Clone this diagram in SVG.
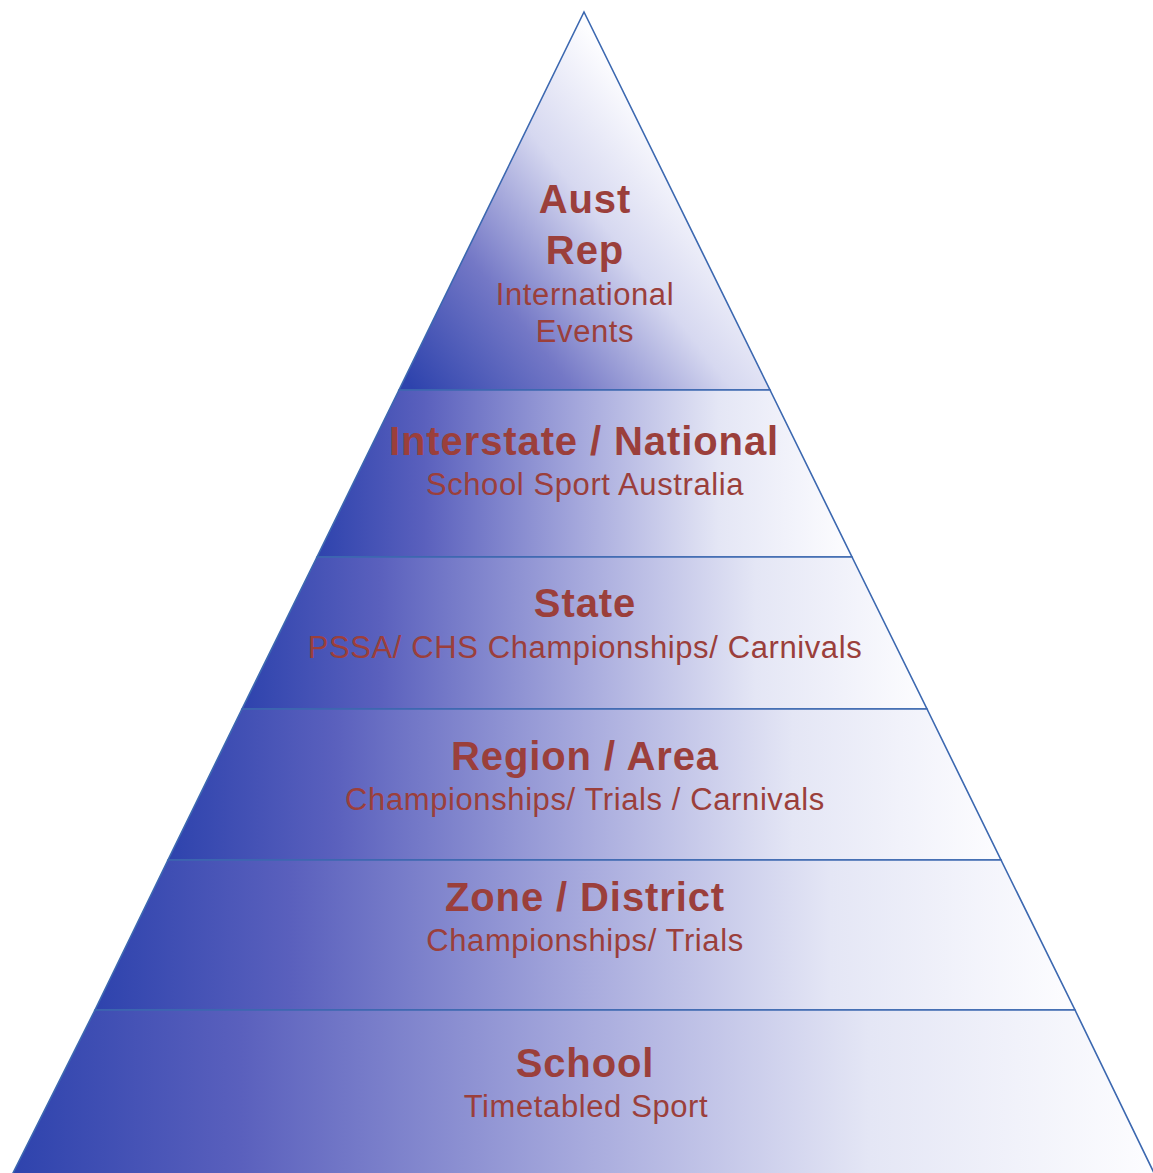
<svg xmlns="http://www.w3.org/2000/svg" width="1153" height="1173" viewBox="0 0 1153 1173">
<defs>
<linearGradient id="band" x1="0" y1="0" x2="1" y2="0">
<stop offset="0" stop-color="#2e43ad"/>
<stop offset="0.2" stop-color="#5a60bd"/>
<stop offset="0.5" stop-color="#a7aadd"/>
<stop offset="0.75" stop-color="#e4e6f5"/>
<stop offset="1" stop-color="#fdfdff"/>
</linearGradient>
<linearGradient id="top" x1="0" y1="0.95" x2="0.75" y2="0.35">
<stop offset="0" stop-color="#2e43ad"/>
<stop offset="0.35" stop-color="#7478c6"/>
<stop offset="0.7" stop-color="#d6d8f0"/>
<stop offset="1" stop-color="#fdfdff"/>
</linearGradient>
<style>
.band{stroke:#3c68b0;stroke-width:1.6;stroke-linejoin:miter}
.h{font-family:"Liberation Sans",Arial,sans-serif;font-weight:bold;font-size:40px;letter-spacing:0.9px;fill:#9b3f3b;text-anchor:middle}
.s{font-family:"Liberation Sans",Arial,sans-serif;font-size:31px;letter-spacing:0.6px;fill:#9b3f3b;text-anchor:middle}
</style>
</defs>
<rect width="1153" height="1173" fill="#ffffff"/>
<g id="aust-rep">
<polygon class="band" fill="url(#top)" points="584,12 770,390 399,390"/>
<text class="h" x="585" y="213">Aust</text>
<text class="h" x="585" y="264">Rep</text>
<text class="s" x="585" y="305">International</text>
<text class="s" x="585" y="342">Events</text>
</g>
<g id="interstate">
<polygon class="band" fill="url(#band)" points="399,390 770,390 852,557 317,557"/>
<text class="h" x="584" y="455">Interstate / National</text>
<text class="s" x="585" y="495">School Sport Australia</text>
</g>
<g id="state">
<polygon class="band" fill="url(#band)" points="317,557 852,557 927,709 242,709"/>
<text class="h" x="585" y="617">State</text>
<text class="s" x="585" y="658">PSSA/ CHS Championships/ Carnivals</text>
</g>
<g id="region">
<polygon class="band" fill="url(#band)" points="242,709 927,709 1001,860 168,860"/>
<text class="h" x="585" y="770">Region / Area</text>
<text class="s" x="585" y="810">Championships/ Trials / Carnivals</text>
</g>
<g id="zone">
<polygon class="band" fill="url(#band)" points="168,860 1001,860 1075,1010 95,1010"/>
<text class="h" x="585" y="911">Zone / District</text>
<text class="s" x="585" y="951">Championships/ Trials</text>
</g>
<g id="school">
<polygon class="band" fill="url(#band)" points="95,1010 1075,1010 1155,1175 12,1175"/>
<text class="h" x="585" y="1077">School</text>
<text class="s" x="586" y="1117">Timetabled Sport</text>
</g>
<g id="connectors"/>
</svg>
